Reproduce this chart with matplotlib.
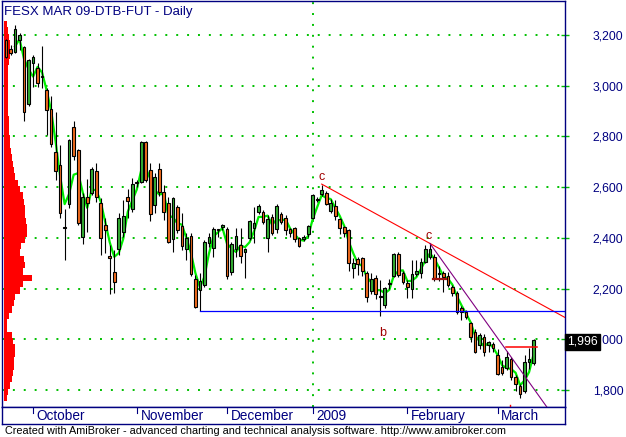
import numpy as np
import pandas as pd
import matplotlib
matplotlib.use("Agg")
import matplotlib.pyplot as plt

plt.rcParams['font.family'] = ['Liberation Sans', 'DejaVu Sans']

# daily bars, FESX Mar 09 (index 0 = 23 Sep 2008)
opens = [3180, 3144, 3132, 3180, 3154, 2927, 3091, 3069, 3038, 2983,
         2907, 2737, 2687, 2440, 2532, 2836, 2746, 2402, 2560, 2578,
         2665, 2536, 2451, 2328, 2267, 2355, 2424, 2560, 2513, 2620,
         2622, 2779, 2668, 2529, 2670, 2580, 2539, 2394, 2520, 2447,
         2355, 2407, 2237, 2194, 2214, 2381, 2359, 2434, 2442, 2434,
         2267, 2355, 2370, 2343, 2398, 2438, 2501, 2501, 2398, 2481,
         2434, 2493, 2480, 2434, 2440, 2398, 2394, 2414, 2479, 2552,
         2573, 2576, 2507, 2527, 2473, 2442, 2431, 2280, 2316, 2320,
         2263, 2191, 2240, 2167, 2135, 2222, 2251, 2336, 2260, 2223,
         2198, 2257, 2260, 2306, 2323, 2326, 2262, 2260, 2250, 2206,
         2181, 2122, 2109, 2063, 2030, 1978, 2010, 1978, 1982, 1938,
         1892, 1886, 1921, 1852, 1816, 1797, 1912, 1905]
highs = [3185, 3160, 3239, 3208, 3156, 3105, 3121, 3088, 3157, 2990,
         2959, 2898, 2766, 2514, 2790, 2862, 2750, 2577, 2632, 2680,
         2694, 2557, 2477, 2372, 2352, 2498, 2549, 2591, 2635, 2630,
         2780, 2782, 2694, 2654, 2694, 2608, 2560, 2562, 2528, 2497,
         2418, 2420, 2253, 2260, 2390, 2420, 2444, 2436, 2456, 2444,
         2384, 2438, 2438, 2360, 2472, 2520, 2534, 2510, 2490, 2495,
         2532, 2500, 2490, 2440, 2444, 2405, 2412, 2452, 2572, 2562,
         2608, 2585, 2552, 2548, 2480, 2448, 2434, 2320, 2325, 2324,
         2268, 2260, 2255, 2233, 2205, 2237, 2340, 2345, 2270, 2233,
         2313, 2313, 2320, 2370, 2378, 2335, 2290, 2268, 2265, 2215,
         2190, 2130, 2115, 2070, 2040, 2025, 2020, 1995, 1990, 1960,
         1920, 1955, 1930, 1860, 1825, 1940, 1964, 2000]
lows = [3110, 3120, 3128, 3141, 2862, 2918, 2996, 2996, 2990, 2806,
        2760, 2628, 2478, 2313, 2518, 2707, 2450, 2375, 2424, 2570,
        2543, 2332, 2339, 2179, 2184, 2332, 2405, 2477, 2503, 2600,
        2618, 2620, 2468, 2499, 2565, 2470, 2380, 2346, 2418, 2352,
        2313, 2250, 2123, 2110, 2205, 2365, 2326, 2405, 2430, 2238,
        2253, 2323, 2300, 2240, 2392, 2378, 2495, 2455, 2346, 2410,
        2418, 2455, 2411, 2405, 2385, 2362, 2388, 2405, 2475, 2540,
        2565, 2530, 2499, 2470, 2414, 2402, 2268, 2240, 2253, 2250,
        2148, 2180, 2160, 2090, 2125, 2197, 2245, 2245, 2220, 2162,
        2162, 2250, 2240, 2300, 2315, 2230, 2230, 2188, 2205, 2170,
        2100, 2076, 2080, 1990, 1945, 1960, 1935, 1950, 1950, 1858,
        1860, 1878, 1838, 1795, 1767, 1790, 1881, 1900]
closes = [3115, 3128, 3222, 3200, 2895, 3101, 3112, 3010, 3034, 2904,
          2769, 2664, 2497, 2438, 2786, 2723, 2457, 2562, 2536, 2670,
          2560, 2398, 2431, 2319, 2225, 2477, 2487, 2544, 2611, 2617,
          2777, 2628, 2493, 2639, 2582, 2501, 2385, 2556, 2431, 2369,
          2398, 2256, 2129, 2230, 2382, 2402, 2434, 2430, 2451, 2251,
          2374, 2407, 2328, 2355, 2465, 2457, 2526, 2464, 2473, 2418,
          2526, 2462, 2431, 2418, 2394, 2368, 2405, 2447, 2568, 2549,
          2589, 2534, 2536, 2486, 2438, 2418, 2300, 2300, 2298, 2270,
          2167, 2237, 2178, 2166, 2201, 2218, 2336, 2253, 2227, 2208,
          2257, 2270, 2306, 2356, 2355, 2240, 2257, 2247, 2214, 2184,
          2109, 2109, 2087, 2008, 1951, 2017, 1950, 1988, 1965, 1862,
          1866, 1932, 1850, 1822, 1784, 1909, 1921, 1996]

month_names = ["October", "November", "December", "2009", "February", "March"]
month_start = [6, 29, 49, 68, 89, 109]
price_ticks = [1800, 2000, 2200, 2400, 2600, 2800, 3000, 3200]

# volume at price profile (bins of 25 points from 1755)
vap_bottom = 1755
vap_step = 25
vap_volume = [3, 4, 6, 8, 9, 10, 10, 11, 11, 9,
              8, 3, 3, 5, 8, 10, 11, 16, 19, 28,
              19, 21, 20, 16, 17, 21, 23, 23, 22, 21,
              21, 20, 19, 16, 14, 11, 10, 9, 8, 7,
              6, 6, 5, 5, 5, 4, 4, 4, 4, 4,
              4, 4, 4, 5, 6, 6, 6, 5, 4, 3]

# trendline anchors (bar index, price)
res_line = [(70, 2612), (94, 2378)]
fast_line = [(94, 2378), (111, 1955)]
support_price = 2110
support_from = 43

navy = "#000080"
grid_green = "#00c000"
up_col = "#33b033"
dn_col = "#f26b1d"

W, H = 626, 437
fig = plt.figure(figsize=(W / 100, H / 100), dpi=100)
ax = fig.add_axes([1.5 / W, (H - 407) / H, 563.5 / W, 406.5 / H])
xmin, xmax = -1.0, 123.95
ax.set_xlim(xmin, xmax)
ax.set_ylim(1733, 3336)

for s in ax.spines.values():
    s.set_color(navy)
    s.set_linewidth(1)

# grid
for p in price_ticks:
    ax.axhline(p, color=grid_green, lw=1.4, dashes=(1, 4.6), zorder=1)
ax.axvline(68, color=grid_green, lw=1.4, dashes=(1, 4.6), zorder=1)

# volume at price
n = len(vap_volume)
levels = vap_bottom + vap_step * np.arange(n)
ax.barh(levels, [v / 563 for v in vap_volume], height=vap_step, left=0.004,
        align='edge', color='#ff0000', transform=ax.get_yaxis_transform(), zorder=2)

# moving average
ma = pd.Series(closes).rolling(3).mean()
x = np.arange(len(closes))
ax.plot(x, ma, color='#00ee00', lw=1.6, zorder=3)

# candles
o = np.array(opens); c = np.array(closes)
ax.vlines(x, lows, highs, color='black', lw=0.8, zorder=4)
body_lo = np.minimum(o, c)
body_h = np.maximum(np.abs(c - o), 3)
cols = [up_col if cc > oo else dn_col for oo, cc in zip(o, c)]
ax.bar(x, body_h, bottom=body_lo, width=0.6, color=cols, edgecolor='black',
       linewidth=0.8, zorder=5)

# trendlines
(x1, y1), (x2, y2) = res_line
k = (y2 - y1) / (x2 - x1)
ax.plot([x1, xmax], [y1, y1 + k * (xmax - x1)], color='#ff0000', lw=0.8, zorder=6)
(x1, y1), (x2, y2) = fast_line
k = (y2 - y1) / (x2 - x1)
ax.plot([x1, xmax], [y1, y1 + k * (xmax - x1)], color='#800080', lw=0.8, zorder=6)
ax.plot([support_from, xmax], [support_price, support_price], color='#0000ff', lw=0.9, zorder=6)
ax.plot([94.7, 97.6], [2237, 2237], color='#a01010', lw=1.6, zorder=6)
ax.plot([110.8, 117.7], [1968, 1968], color='#ff0000', lw=1.1, zorder=6)
ax.plot([111.8, 111.8], [1733, 1741], color='#ff0000', lw=1, zorder=6)

ax.text(70, 2618, "c", color='#a00000', fontsize=9, ha='center', va='bottom', zorder=7)
ax.text(93.8, 2384, "c", color='#a00000', fontsize=9, ha='center', va='bottom', zorder=7)
ax.text(83.6, 2025, "b", color='#a00000', fontsize=9, ha='center', va='center', zorder=7)

# price axis
ax.set_xticks([])
ax.yaxis.tick_right()
ax.set_yticks(price_ticks)
ax.set_yticklabels([f"{p:,}" for p in price_ticks])
ax.tick_params(axis='y', direction='inout', length=6, width=1, color=grid_green,
               labelcolor=navy, labelsize=8.7, pad=17)
ax.text(1.004, 1990, "1,996", transform=ax.get_yaxis_transform(), color='white',
        fontsize=8.7, ha='left', va='center', zorder=10,
        bbox=dict(boxstyle='square,pad=0.15', fc='black', ec='black'))

# date band
ax2 = fig.add_axes([1.5 / W, (H - 424) / H, 563.5 / W, 17 / H])
ax2.set_xlim(xmin, xmax)
ax2.set_ylim(0, 1)
ax2.set_xticks([]); ax2.set_yticks([])
for s in ax2.spines.values():
    s.set_color(navy)
    s.set_linewidth(1)
for i, name in zip(month_start, month_names):
    ax2.plot([i, i], [0.62, 1], color=navy, lw=0.8)
    ax2.text(i + 0.8, 0.45, name, color=navy, fontsize=9.8, ha='left', va='center')

fig.text(4 / W, 1 - 15 / H, "FESX MAR 09-DTB-FUT - Daily", color=navy,
         fontsize=9.5, ha='left', va='baseline')
fig.text(5 / W, 1 - 434 / H,
         "Created with AmiBroker - advanced charting and technical analysis software. http://www.amibroker.com",
         color='black', fontsize=7.8, ha='left', va='baseline')

fig.savefig("out.png", dpi=100)
